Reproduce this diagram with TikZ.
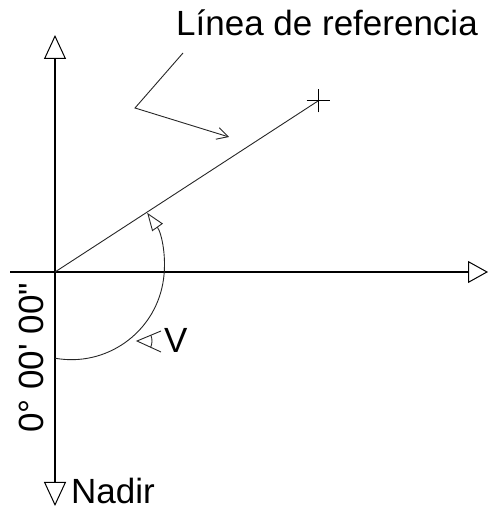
\documentclass[tikz,border=0pt]{standalone}
\usepackage{fontspec}
\setmainfont{Liberation Sans}
\newfontfamily\lblfont{Liberation Sans}
\usetikzlibrary{arrows.meta}

\begin{document}
\begin{tikzpicture}[
  x=1pt, y=1pt,
  axis/.style={black, line width=1.3pt, {Triangle[open, length=24pt, width=22pt, line width=1pt]}-{Triangle[open, length=24pt, width=22pt, line width=1pt]}},
  thinline/.style={black!85, line width=0.9pt},
  lead/.style={thinline, -{Straight Barb[length=11pt, width=12pt, line width=0.9pt]}},
  sweep/.style={thinline, -{Triangle[open, length=18pt, width=13pt, line width=0.9pt]}},
  lbl/.style={font=\lblfont\fontsize{35}{35}\selectfont, inner sep=0pt, text=black},
]
\useasboundingbox (0,0) rectangle (488,508);

% ---- axes ----
\coordinate (orig)  at (55,236);
\coordinate (zen)   at (55,473);
\coordinate (nadir) at (55,2);
\coordinate (west)  at (10,236);
\coordinate (east)  at (488,236);
\draw[axis] (nadir) -- (zen);
\draw[line width=1.3pt, -{Triangle[open, length=20pt, width=22pt, line width=1pt]}] (west) -- (east);

% ---- reference line with its sighting cross ----
\coordinate (ref) at (318,407);
\draw[thinline] (orig) -- (ref);
\draw[line width=1pt] (ref) ++(-11.5,0) -- ++(23,0);
\draw[line width=1pt] (ref) ++(0,-11.5) -- ++(0,23);

% ---- leader to the reference line ----
\coordinate (lead0) at (183,455);
\coordinate (lead1) at (135,400);
\coordinate (lead2) at (229,371);
\draw[lead] (lead0) -- (lead1) -- (lead2);

% ---- vertical angle, swept from the nadir up to the line ----
\coordinate (vstart) at (54.9,149.8);
\draw[sweep] (vstart) arc[start angle=-100.2, end angle=35.4, radius=93];

% angle mark next to V
\coordinate (vtip) at (137,167);
\draw[thinline] (vtip) ++(24,10) -- (vtip) -- ++(24,-11);
\draw[thinline] ([shift={(22.6:15)}]vtip) arc[start angle=22.6, end angle=-24.6, radius=15];

% ---- labels ----
\node[lbl, anchor=base west] (reflbl) at (176,472) {Línea de referencia};
\node[lbl, anchor=base west] (vlbl) at (164,155) {V};
\node[lbl, anchor=base west] (nadirlbl) at (71,5) {Nadir};
\node[lbl, anchor=base west, rotate=90] (anglbl) at (43,75) {0° 00' 00"};

\end{tikzpicture}
\end{document}
